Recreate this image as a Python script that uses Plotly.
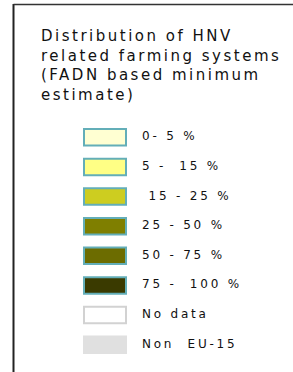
import plotly.graph_objects as go

W, H = 293, 372

categories = ["0- 5 %", "5 -  15 %", " 15 - 25 %", "25 - 50 %", "50 - 75 %",
              "75 -  100 %", "No data", "Non  EU-15"]
fill_colors = ["#FFFFD2", "#FFFF85", "#CDCD20", "#7F7F00", "#6C6C00",
               "#3A3A00", "#FFFFFF", "#E0E0E0"]
border_colors = ["#63AEB8", "#63AEB8", "#63AEB8", "#63AEB8", "#63AEB8",
                 "#63AEB8", "#D2D2D2", "#E0E0E0"]
swatch_len = [1] * len(categories)
title_text = "Distribution of HNV<br>related farming systems<br>(FADN based minimum<br>estimate)"

fig = go.Figure()
fig.add_trace(go.Bar(
    y=categories, x=swatch_len, base=0, orientation="h",
    marker=dict(color=fill_colors, line=dict(color=border_colors, width=2)),
    width=0.56, showlegend=False, hoverinfo="skip",
))
fig.add_trace(go.Scatter(
    y=categories, x=[1.38] * len(categories), mode="text",
    text=categories, textposition="middle right",
    textfont=dict(family="DejaVu Sans", size=12, color="#111111"),
    showlegend=False, hoverinfo="skip",
))

# swatch spans px 84..126 -> map x range
x0_px, x1_px = 84, 126
px_per_unit = x1_px - x0_px
xr = [-x0_px / px_per_unit, (W - x0_px) / px_per_unit]

top_px, bot_px = 122.5, 359.5
fig.update_layout(
    width=W, height=H, margin=dict(l=0, r=0, t=0, b=0),
    paper_bgcolor="white", plot_bgcolor="white",
    xaxis=dict(range=xr, visible=False, domain=[0, 1], fixedrange=True),
    yaxis=dict(type="category", categoryorder="array", categoryarray=categories,
               autorange="reversed", visible=False, fixedrange=True,
               domain=[(H - bot_px) / H, (H - top_px) / H]),
    annotations=[dict(
        text=title_text, xref="paper", yref="paper",
        x=39 / W, y=1 - 25 / H, xanchor="left", yanchor="top", align="left",
        showarrow=False,
        font=dict(family="DejaVu Sans", size=15, color="#111111"),
    )],
    shapes=[
        dict(type="line", xref="paper", yref="paper", x0=13.5 / W, x1=13.5 / W,
             y0=0, y1=1 - 4 / H, line=dict(color="#222222", width=2)),
        dict(type="line", xref="paper", yref="paper", x0=13.5 / W, x1=1,
             y0=1 - 4.5 / H, y1=1 - 4.5 / H, line=dict(color="#333333", width=1.5)),
    ],
)

post = """
document.body.style.margin='0';
document.body.style.overflow='hidden';
document.querySelectorAll('.annotation-text').forEach(function(e){e.style.letterSpacing='2.5px';});
document.querySelectorAll('.textpoint text').forEach(function(e){e.style.letterSpacing='2.8px';});
"""
fig.write_html("out.html", post_script=post, config={"displayModeBar": False, "staticPlot": True})
